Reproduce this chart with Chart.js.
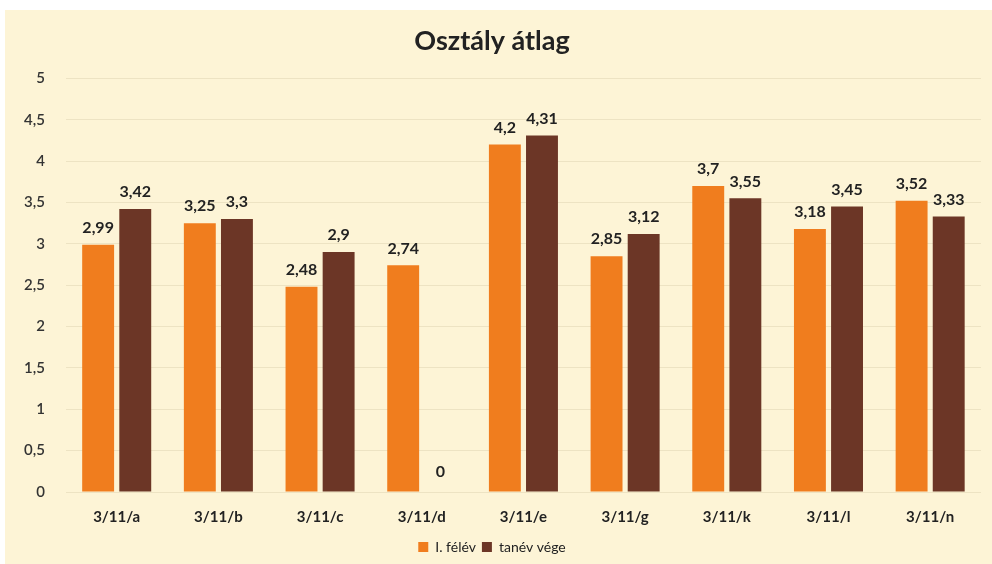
<!DOCTYPE html>
<html>
<head>
<meta charset="utf-8">
<script src="https://cdn.jsdelivr.net/npm/chart.js@4"></script>
<style>
  html, body { margin: 0; padding: 0; background: #fff; }
  #wrap { position: relative; width: 992px; height: 564px; }
</style>
</head>
<body>
<div id="wrap"><canvas id="chart"></canvas></div>
<script>
  // data
  const categories = ["3/11/a", "3/11/b", "3/11/c", "3/11/d", "3/11/e", "3/11/g", "3/11/k", "3/11/l", "3/11/n"];
  const felev = [2.99, 3.25, 2.48, 2.74, 4.2, 2.85, 3.7, 3.18, 3.52];
  const tanevVege = [3.42, 3.3, 2.9, 0, 4.31, 3.12, 3.55, 3.45, 3.33];
  const seriesNames = ["I. félév", "tanév vége"];

  const fmt = (v) => String(v).replace(".", ",");

  // cream paper behind the chart
  const paperBg = {
    id: "paperBg",
    beforeDraw(chart) {
      const ctx = chart.ctx;
      ctx.save();
      ctx.fillStyle = "#fdf4d6";
      ctx.fillRect(5, 10, chart.width - 5, chart.height - 10);
      ctx.restore();
    },
  };

  // value labels above bars
  const valueLabels = {
    id: "valueLabels",
    afterDatasetsDraw(chart) {
      const ctx = chart.ctx;
      ctx.save();
      ctx.font = "bold 16px Lato, 'Open Sans', sans-serif";
      ctx.fillStyle = "#222";
      ctx.textAlign = "center";
      ctx.textBaseline = "bottom";
      chart.data.datasets.forEach((ds, i) => {
        const meta = chart.getDatasetMeta(i);
        meta.data.forEach((bar, j) => {
          const v = ds.data[j];
          const y = v === 0 ? bar.y - 12 : bar.y - 9;
          ctx.fillText(fmt(v), bar.x, y);
        });
      });
      ctx.restore();
    },
  };

  new Chart(document.getElementById("chart"), {
    type: "bar",
    data: {
      labels: categories,
      datasets: [
        { label: seriesNames[0], data: felev, backgroundColor: "#f07d1e" },
        { label: seriesNames[1], data: tanevVege, backgroundColor: "#6c3626" },
      ],
    },
    options: {
      responsive: true,
      maintainAspectRatio: false,
      animation: false,
      categoryPercentage: 0.73,
      barPercentage: 0.86,
      layout: { padding: { left: 3, right: 11, top: 4, bottom: 0 } },
      scales: {
        x: {
          grid: { display: false },
          border: { display: false },
          ticks: {
            color: "#222",
            padding: 8,
            font: { family: "Lato, 'Open Sans', sans-serif", size: 15, weight: "bold" },
          },
        },
        y: {
          min: 0,
          max: 5,
          grid: { color: "rgba(190,175,140,0.25)", drawTicks: false },
          border: { display: false },
          ticks: {
            stepSize: 0.5,
            color: "#333",
            padding: 21,
            font: { family: "Lato, 'Open Sans', sans-serif", size: 15, weight: "600" },
            callback: (v) => fmt(v),
          },
        },
      },
      plugins: {
        title: {
          display: true,
          text: "Osztály átlag",
          color: "#222",
          font: { family: "Lato, 'Open Sans', sans-serif", size: 27, weight: "bold" },
          padding: { top: 21, bottom: 21 },
        },
        legend: {
          position: "bottom",
          labels: {
            boxWidth: 10,
            boxHeight: 10,
            padding: 6,
            color: "#222",
            font: { family: "Lato, 'Open Sans', sans-serif", size: 14 },
          },
        },
        tooltip: { enabled: false },
      },
    },
    plugins: [paperBg, valueLabels],
  });
</script>
</body>
</html>
